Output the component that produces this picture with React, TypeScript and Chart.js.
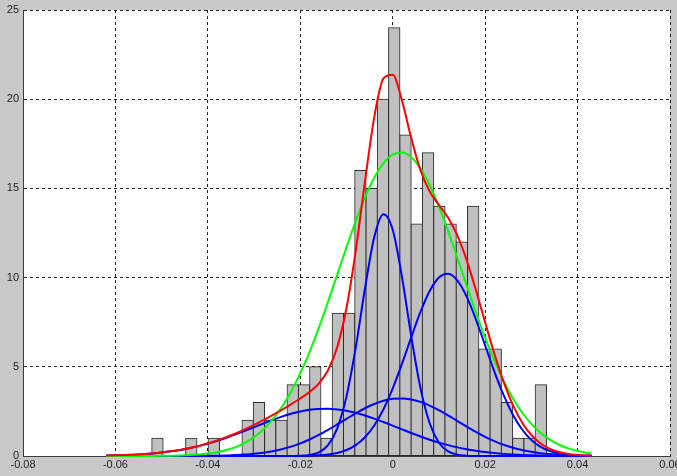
import React, { useEffect, useRef } from "react";
import { Chart, registerables } from "chart.js";

Chart.register(...registerables);

// Histogram bins (centers) and counts
const binCenters = [
  -0.05091, -0.04847, -0.04603, -0.04359, -0.04115, -0.03871, -0.03627, -0.03383,
  -0.03139, -0.02895, -0.02651, -0.02407, -0.02163, -0.01919, -0.01675, -0.01431,
  -0.01187, -0.00943, -0.00699, -0.00455, -0.00211, 0.00033, 0.00277, 0.00521,
  0.00765, 0.01009, 0.01253, 0.01497, 0.01741, 0.01985, 0.02229, 0.02473,
  0.02717, 0.02961, 0.03205,
];
const binCounts = [
  1, 0, 0, 1, 0, 1, 0, 0, 2, 3, 2, 2, 4, 4, 5, 1, 8, 8, 16, 15, 20, 24, 18, 13, 17,
  14, 13, 12, 14, 6, 6, 3, 1, 1, 4,
];

// x positions at which the fitted curves were read
const curveX = [
  -0.062, -0.06, -0.058, -0.056, -0.054, -0.052, -0.05, -0.048, -0.046, -0.044,
  -0.042, -0.04, -0.038, -0.036, -0.034, -0.032, -0.03, -0.028, -0.026, -0.024,
  -0.022, -0.02, -0.018, -0.016, -0.014, -0.012, -0.01, -0.008, -0.006, -0.004,
  -0.002, 0.0, 0.002, 0.004, 0.006, 0.008, 0.01, 0.012, 0.014, 0.016,
  0.018, 0.02, 0.022, 0.024, 0.026, 0.028, 0.03, 0.032, 0.034, 0.036,
  0.038, 0.04, 0.042, 0.043,
];

// mixture components (blue)
const component1 = [
  0, 0, 0, 0, 0, 0, 0, 0, 0, 0,
  0, 0, 0, 0, 0, 0, 0, 0, 0.0001, 0.0005,
  0.003, 0.014, 0.058, 0.204, 0.611, 1.553, 3.343, 6.09, 9.39, 12.26,
  13.55, 12.68, 10.04, 6.73, 3.82, 1.835, 0.746, 0.257, 0.075, 0.019,
  0.004, 0, 0, 0, 0, 0, 0, 0, 0, 0,
  0, 0, 0, 0,
];
const component2 = [
  0, 0, 0, 0, 0, 0, 0, 0, 0, 0,
  0, 0, 0, 0, 0, 0, 0, 0, 0.0003, 0.001,
  0.003, 0.007, 0.017, 0.039, 0.085, 0.173, 0.335, 0.611, 1.052, 1.708,
  2.617, 3.784, 5.163, 6.646, 8.073, 9.253, 10.008, 10.213, 9.835, 8.937,
  7.662, 6.199, 4.732, 3.409, 2.317, 1.486, 0.899, 0.513, 0.277, 0.141,
  0.068, 0.031, 0.013, 0.008,
];
const component3 = [
  0, 0, 0, 0.0001, 0.0001, 0.0003, 0.0006, 0.001, 0.002, 0.004,
  0.007, 0.012, 0.02, 0.033, 0.052, 0.082, 0.126, 0.187, 0.271, 0.383,
  0.528, 0.708, 0.926, 1.18, 1.464, 1.77, 2.085, 2.394, 2.677, 2.917,
  3.097, 3.203, 3.228, 3.17, 3.033, 2.827, 2.568, 2.272, 1.959, 1.646,
  1.347, 1.074, 0.835, 0.632, 0.466, 0.335, 0.235, 0.16, 0.106, 0.069,
  0.043, 0.027, 0.016, 0.012,
];
const component4 = [
  0.025, 0.036, 0.053, 0.075, 0.105, 0.144, 0.195, 0.26, 0.341, 0.439,
  0.555, 0.692, 0.848, 1.022, 1.211, 1.411, 1.618, 1.824, 2.022, 2.205,
  2.365, 2.494, 2.587, 2.639, 2.648, 2.613, 2.536, 2.42, 2.272, 2.098,
  1.904, 1.701, 1.494, 1.29, 1.096, 0.915, 0.752, 0.608, 0.483, 0.377,
  0.29, 0.219, 0.163, 0.119, 0.086, 0.061, 0.042, 0.029, 0.019, 0.013,
  0.008, 0.005, 0.003, 0.003,
];
// mixture total (red)
const mixtureFit = [
  0.025, 0.036, 0.053, 0.075, 0.105, 0.144, 0.196, 0.261, 0.343, 0.443,
  0.562, 0.704, 0.868, 1.055, 1.263, 1.493, 1.744, 2.011, 2.293, 2.59,
  2.899, 3.223, 3.588, 4.062, 4.808, 6.109, 8.299, 11.515, 15.391, 18.983,
  21.168, 21.368, 19.925, 17.836, 16.022, 14.83, 14.074, 13.35, 12.352, 10.979,
  9.303, 7.492, 5.73, 4.16, 2.869, 1.882, 1.176, 0.702, 0.402, 0.223,
  0.119, 0.063, 0.032, 0.023,
];
// single normal fit (green)
const normalFit = [
  0.0002, 0.0004, 0.0009, 0.0017, 0.0031, 0.0057, 0.0103, 0.018, 0.031, 0.052,
  0.086, 0.137, 0.216, 0.332, 0.499, 0.733, 1.055, 1.481, 2.037, 2.744,
  3.603, 4.643, 5.829, 7.184, 8.643, 10.17, 11.7, 13.17, 14.49, 15.6,
  16.42, 16.9, 17.01, 16.75, 16.13, 15.19, 13.98, 12.59, 11.09, 9.555,
  8.05, 6.63, 5.34, 4.21, 3.24, 2.44, 1.8, 1.298, 0.914, 0.631,
  0.425, 0.281, 0.181, 0.144,
];

const xMin = -0.08;
const xMax = 0.06;
const xStep = 0.02;
const yMin = 0;
const yMax = 25;
const yStep = 5;

const FONT = { family: "'Liberation Sans', Arial, sans-serif", size: 11 };
const TEXT = "#1e1e1e";

const bgPlugin = {
  id: "figureBackground",
  beforeDraw(chart: any) {
    const { ctx, chartArea: a, width, height } = chart;
    ctx.save();
    ctx.fillStyle = "#c8c8c8";
    ctx.fillRect(0, 0, width, height);
    ctx.fillStyle = "#ffffff";
    ctx.fillRect(a.left, a.top, a.right - a.left, a.bottom - a.top);
    ctx.restore();
  },
};

function lineSet(values: number[], color: string, order: number) {
  return {
    type: "line" as const,
    data: curveX.map((x, i) => ({ x, y: values[i] })),
    borderColor: color,
    backgroundColor: color,
    borderWidth: 2,
    pointRadius: 0,
    cubicInterpolationMode: "monotone" as const,
    fill: false,
    order,
    clip: 6,
  };
}

export default function App() {
  const ref = useRef<HTMLCanvasElement>(null);

  useEffect(() => {
    document.body.style.margin = "0";
    const canvas = ref.current;
    if (!canvas) return;
    const chart = new Chart(canvas, {
      type: "bar",
      data: {
        datasets: [
          {
            type: "bar",
            data: binCenters.map((x, i) => ({ x, y: binCounts[i] })),
            backgroundColor: "#c0c0c0",
            borderColor: "#2a2a2a",
            borderWidth: 1,
            borderSkipped: false,
            barPercentage: 1,
            categoryPercentage: 1,
            inflateAmount: 0.5,
            order: 10,
          } as any,
          lineSet(component1, "#0000ff", 3),
          lineSet(component2, "#0000ff", 3),
          lineSet(component3, "#0000ff", 3),
          lineSet(component4, "#0000ff", 3),
          lineSet(normalFit, "#00ff00", 2),
          lineSet(mixtureFit, "#ff0000", 1),
        ],
      },
      options: {
        animation: false,
        responsive: false,
        devicePixelRatio: 1,
        layout: { padding: { left: 0, top: 10, right: 7, bottom: 0 } },
        plugins: {
          legend: { display: false },
          tooltip: { enabled: false },
        },
        scales: {
          x: {
            type: "linear",
            min: xMin,
            max: xMax,
            offset: false,
            ticks: {
              stepSize: xStep,
              autoSkip: false,
              maxRotation: 0,
              padding: 2,
              font: FONT,
              color: TEXT,
              callback: (v: any) => String(Math.round(Number(v) * 100) / 100),
            },
            grid: { color: "#222222", lineWidth: 1, drawTicks: false, offset: false },
            border: { display: true, color: "#3a3a3a", width: 1, dash: [3, 3] },
            afterFit: (s: any) => {
              s.height = 20;
              s.paddingLeft = 0;
              s.paddingRight = 0;
            },
          },
          y: {
            type: "linear",
            min: yMin,
            max: yMax,
            ticks: {
              stepSize: yStep,
              padding: 4,
              font: FONT,
              color: TEXT,
            },
            grid: { color: "#222222", lineWidth: 1, drawTicks: false, offset: false },
            border: { display: true, color: "#3a3a3a", width: 1, dash: [3, 3] },
            afterFit: (s: any) => {
              s.width = 23;
              s.paddingTop = 0;
              s.paddingBottom = 0;
            },
          },
        },
      } as any,
      plugins: [bgPlugin],
    });
    return () => chart.destroy();
  }, []);

  return (
    <div style={{ width: 677, height: 476, background: "#c8c8c8" }}>
      <canvas
        ref={ref}
        width={677}
        height={476}
        style={{ display: "block", width: 677, height: 476 }}
      />
    </div>
  );
}
